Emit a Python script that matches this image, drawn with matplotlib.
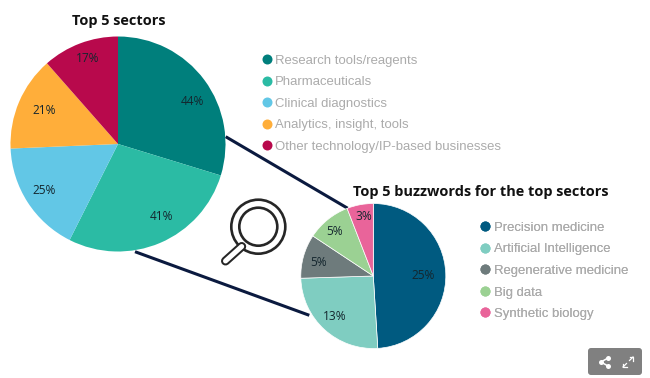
import matplotlib
matplotlib.use("Agg")
import matplotlib.pyplot as plt
from matplotlib.lines import Line2D
from matplotlib.patches import Circle, FancyBboxPatch

W, H = 650, 378

sector_names = ["Research tools/reagents", "Pharmaceuticals", "Clinical diagnostics",
                "Analytics, insight, tools", "Other technology/IP-based businesses"]
sector_values = [44, 41, 25, 21, 17]
sector_colors = ["#007F7C", "#2BBBA4", "#62C7E6", "#FFAE3A", "#B8094C"]

buzz_names = ["Precision medicine", "Artificial Intelligence", "Regenerative medicine",
              "Big data", "Synthetic biology"]
buzz_values = [25, 13, 5, 5, 3]
buzz_colors = ["#005A80", "#7FCDC1", "#6E7B7C", "#9BD193", "#E9649A"]

sector_label_px = [(192.7, 101.3), (162, 216.3), (43.7, 190.3), (43.7, 110.3), (88, 59)]
buzz_label_px = [(422.7, 275.7), (334.3, 316.3), (318.3, 262), (335, 231.7), (363.7, 216.7)]

fig = plt.figure(figsize=(W / 100, H / 100), dpi=100, facecolor="white")
bg = fig.add_axes([0, 0, 1, 1], zorder=1)
bg.set_xlim(0, W)
bg.set_ylim(H, 0)
bg.axis("off")

LABEL_FONT = "Open Sans"
INK = "#0B1A3F"


def draw_pie(cx, cy, r, values, colors, labels_px, edge):
    ax = fig.add_axes([(cx - r) / W, 1 - (cy + r) / H, 2 * r / W, 2 * r / H], zorder=2)
    ax.pie(values, colors=colors, startangle=90, counterclock=False, radius=1,
           wedgeprops=dict(edgecolor=edge, linewidth=0.5 if edge != "none" else 0))
    ax.set_xlim(-1, 1)
    ax.set_ylim(-1, 1)
    for v, (px, py) in zip(values, labels_px):
        fig.text(px / W, 1 - py / H, f"{v}%", ha="center", va="center",
                 fontsize=8.6, family=LABEL_FONT, color="#14262E", zorder=5)


draw_pie(118, 144, 107.5, sector_values, sector_colors, sector_label_px, "none")
draw_pie(373.3, 276, 72.5, buzz_values, buzz_colors, buzz_label_px, "white")

# connectors
bg.plot([225.7, 347.7], [136.7, 208.3], color=INK, lw=2.2, solid_capstyle="butt")
bg.plot([135, 309.3], [251.7, 315.3], color=INK, lw=2.2, solid_capstyle="butt")

# titles
bg.text(119, 20.5, "Top 5 sectors", ha="center", va="center", fontsize=10.45,
        fontweight="bold", family=LABEL_FONT, color="#111111")
bg.text(480.5, 192, "Top 5 buzzwords for the top sectors", ha="center", va="center",
        fontsize=10.45, fontweight="bold", family=LABEL_FONT, color="#111111")


def legend(names, colors, x, y):
    handles = [Line2D([], [], ls="none", marker="o", ms=7.2, mfc=c, mec="none") for c in colors]
    lg = bg.legend(handles, names, loc="upper left", bbox_to_anchor=(x / W, 1 - y / H),
                   bbox_transform=fig.transFigure, frameon=False, borderpad=0, borderaxespad=0,
                   handlelength=0.8, handletextpad=0.26, labelspacing=0.71,
                   prop=dict(family="Liberation Sans", size=9.45))
    for t in lg.get_texts():
        t.set_color("#ABABAB")
    bg.add_artist(lg)


legend(sector_names, sector_colors, 261.3, 54.5)
legend(buzz_names, buzz_colors, 480.2, 221.8)

# magnifier icon
DARK = "#262626"
bg.plot([241.7, 225.5], [246.5, 261], color=DARK, lw=6.5, solid_capstyle="round")
bg.plot([241.7, 225.5], [246.5, 261], color="white", lw=3.6, solid_capstyle="round")
bg.add_patch(Circle((258.3, 226.7), 27, fc="white", ec=DARK, lw=1.9))
bg.add_patch(Circle((258.3, 226.7), 19, fc="white", ec=DARK, lw=1.9))

# share / expand button
bg.add_patch(FancyBboxPatch((591, 351), 48, 21, boxstyle="round,pad=3", fc="#808080", ec="none"))
sx, sy = 604, 362
bg.plot([sx + 4, sx - 3, sx + 4], [sy - 4, sy, sy + 4], color="white", lw=1.1)
bg.plot([sx + 4, sx - 3, sx + 4], [sy - 4, sy, sy + 4], ls="none", marker="o", ms=3.6,
        mfc="white", mec="none")
ex, ey = 628, 362
for dx, dy in [(1, -1), (-1, 1)]:
    tx, ty = ex + 5 * dx, ey + 5 * dy
    bg.plot([ex + 1.5 * dx, tx], [ey + 1.5 * dy, ty], color="white", lw=0.9)
    bg.plot([tx - 3.5 * dx, tx, tx], [ty, ty, ty - 3.5 * dy], color="white", lw=0.9)

fig.savefig("out.png", dpi=100, facecolor="white")
